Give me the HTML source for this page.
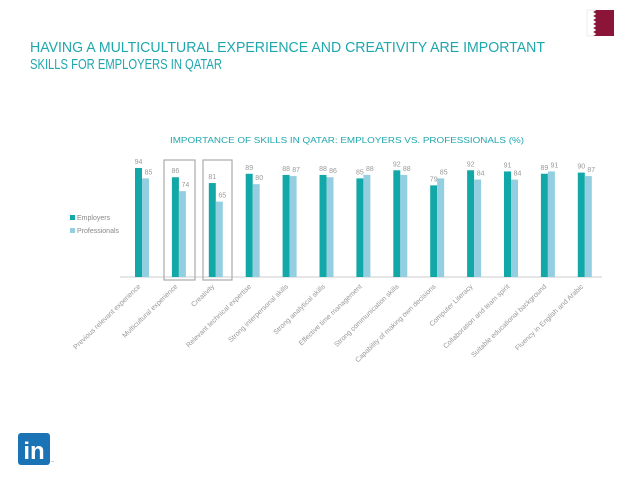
<!DOCTYPE html>
<html><head><meta charset="utf-8"><style>
html,body{margin:0;padding:0;background:#fff;width:638px;height:479px;overflow:hidden}
svg{display:block;font-family:"Liberation Sans",sans-serif}
</style></head><body>
<svg id="s" width="638" height="479" viewBox="0 0 638 479">
  <g>
    <rect x="587" y="10" width="27" height="26" fill="#8a1538"/>
    <polygon points="587,10 596,10 593,12 596,14 593,16 596,18 593,20 596,22 593,24 596,26 593,28 596,30 593,32 596,34 593,36 587,36" fill="#fff" stroke="#ddd" stroke-width="0.5"/>
  </g>
  <text x="30" y="52" font-size="14.5" fill="#1fa7ad" textLength="515" lengthAdjust="spacingAndGlyphs">HAVING A MULTICULTURAL EXPERIENCE AND CREATIVITY ARE IMPORTANT</text>
  <text x="30" y="69" font-size="14.5" fill="#1fa7ad" textLength="192" lengthAdjust="spacingAndGlyphs">SKILLS FOR EMPLOYERS IN QATAR</text>
  <text x="347" y="143" font-size="8.5" fill="#1fa7ad" text-anchor="middle" textLength="354" lengthAdjust="spacingAndGlyphs">IMPORTANCE OF SKILLS IN QATAR: EMPLOYERS VS. PROFESSIONALS (%)</text>
  <g>
    <rect x="70" y="215" width="5" height="5" fill="#13a8a8"/>
    <text x="77" y="220" font-size="7" fill="#888">Employers</text>
    <rect x="70" y="228" width="5" height="5" fill="#93cfe0"/>
    <text x="77" y="233" font-size="7" fill="#888">Professionals</text>
  </g>
  <line x1="120" y1="277" x2="602" y2="277" stroke="#ccc" stroke-width="1"/>
  <g id="bars"></g>
  <rect x="164" y="160" width="31" height="120" fill="none" stroke="#aaa" stroke-width="1.2"/>
  <rect x="203" y="160" width="29" height="120" fill="none" stroke="#aaa" stroke-width="1.2"/>
  <g>
    <rect x="18" y="433" width="32" height="32" rx="3" fill="#1a73b5"/>
    <text x="34" y="459" font-size="24" font-weight="bold" fill="#fff" text-anchor="middle">in</text>
    <text x="51" y="463" font-size="3" fill="#888">™</text>
  </g>
</svg>
<script>
const categories = ["Previous relevant experience","Multicultural experience","Creativity","Relevant technical expertise","Strong interpersonal skills","Strong analytical skills","Effective time management","Strong communication skills","Capability of making own decisions","Computer Literacy","Collaboration and team spirit","Suitable educational background","Fluency in English and Arabic"];
const employers = [94,86,81,89,88,88,85,92,79,92,91,89,90];
const professionals = [85,74,65,80,87,86,88,88,85,84,84,91,87];

const NS = "http://www.w3.org/2000/svg";
const g = document.getElementById("bars");
const base = 277, unit = 1.16, x0 = 142, step = 36.9, bw = 7;
const xPos = i => x0 + i * step;
const yPos = v => base - v * unit;
function mk(tag, attrs){const e=document.createElementNS(NS,tag);for(const k in attrs)e.setAttribute(k,attrs[k]);g.appendChild(e);return e;}
categories.forEach((c,i)=>{
  const cx = xPos(i);
  const e = employers[i], p = professionals[i];
  const r1 = mk("rect",{x:cx-bw,y:yPos(e),width:bw,height:base-yPos(e),fill:"#13a8a8"});
  
  
  const r2 = mk("rect",{x:cx,y:yPos(p),width:bw,height:base-yPos(p),fill:"#93cfe0"});
  
  
  const t1 = mk("text",{x:cx-bw/2,y:yPos(e)-4,"font-size":7,fill:"#999","text-anchor":"middle"});
  t1.textContent = e;
  
  
  const t2 = mk("text",{x:cx+bw/2+3,y:yPos(p)-4,"font-size":7,fill:"#999","text-anchor":"middle"});
  t2.textContent = p;
  
  
  const lx = cx - 1, ly = 287;
  const t3 = mk("text",{x:lx,y:ly,"font-size":7,fill:"#999","text-anchor":"end",transform:`rotate(-44 ${lx} ${ly})`});
  t3.textContent = c;
  
  
});
</script>
</body></html>
